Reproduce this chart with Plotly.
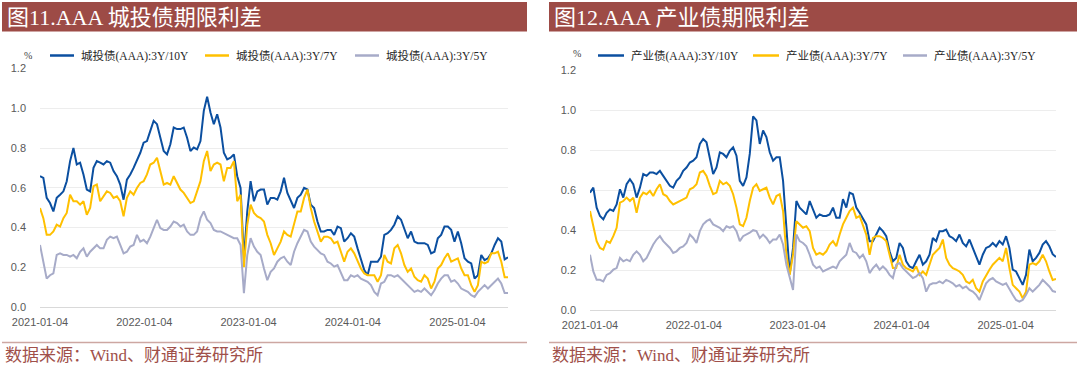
import plotly.graph_objects as go
import pandas as pd

# ---------------- data ----------------
START, END, N_POINTS = "2021-01-04", "2025-06-30", 141
tick_dates = ["2021-01-04", "2022-01-04", "2023-01-04", "2024-01-04", "2025-01-04"]
y_ticks = [0.0, 0.2, 0.4, 0.6, 0.8, 1.0, 1.2]

titles = ["图11.AAA 城投债期限利差", "图12.AAA 产业债期限利差"]
names_left = ["城投债(AAA):3Y/10Y", "城投债(AAA):3Y/7Y", "城投债(AAA):3Y/5Y"]
names_right = ["产业债(AAA):3Y/10Y", "产业债(AAA):3Y/7Y", "产业债(AAA):3Y/5Y"]
source_text = "数据来源：Wind、财通证券研究所"

ct_10y = [
    0.658, 0.650, 0.549, 0.523, 0.481, 0.549, 0.565, 0.582, 0.633, 0.734,
    0.800, 0.717, 0.726, 0.667, 0.591, 0.582, 0.700, 0.734, 0.726, 0.717,
    0.734, 0.726, 0.684, 0.658, 0.616, 0.540, 0.641, 0.667, 0.700, 0.734,
    0.776, 0.827, 0.835, 0.886, 0.937, 0.920, 0.852, 0.785, 0.768, 0.819,
    0.903, 0.895, 0.895, 0.903, 0.852, 0.785,
    0.802, 0.793, 0.835, 0.987, 1.058, 0.979, 0.920, 0.970, 0.903, 0.776,
    0.743, 0.751, 0.768, 0.658, 0.599, 0.240, 0.481, 0.633, 0.532, 0.582,
    0.591, 0.591, 0.515, 0.549, 0.549, 0.540, 0.582, 0.650, 0.574, 0.532,
    0.498, 0.549, 0.565, 0.599, 0.591, 0.515, 0.498, 0.430, 0.380, 0.380,
    0.388, 0.388, 0.363, 0.405, 0.397, 0.329,
    0.346, 0.371, 0.354, 0.295, 0.245, 0.186, 0.160, 0.228, 0.228, 0.228,
    0.253, 0.363, 0.371, 0.388, 0.414, 0.456, 0.439, 0.388, 0.346, 0.380,
    0.329, 0.321, 0.321, 0.321, 0.312, 0.270, 0.278, 0.346, 0.363, 0.405,
    0.405, 0.388, 0.329, 0.380, 0.321, 0.245, 0.228, 0.219, 0.143, 0.160,
    0.262, 0.236, 0.245, 0.270, 0.312, 0.346, 0.329, 0.240, 0.250,
]
ct_7y = [
    0.498, 0.447, 0.363, 0.363, 0.380, 0.414, 0.405, 0.447, 0.473, 0.565,
    0.532, 0.532, 0.515, 0.532, 0.464, 0.498, 0.608, 0.616, 0.532, 0.557,
    0.582, 0.574, 0.549, 0.557, 0.532, 0.456, 0.549, 0.582, 0.565, 0.599,
    0.624, 0.633, 0.667, 0.717, 0.726, 0.751, 0.684, 0.616, 0.624, 0.616,
    0.658, 0.624, 0.591, 0.574, 0.549, 0.523,
    0.532, 0.582, 0.633, 0.734, 0.785, 0.684, 0.717, 0.726, 0.717, 0.633,
    0.700, 0.700, 0.734, 0.532, 0.565, 0.200, 0.414, 0.515, 0.473, 0.456,
    0.447, 0.430, 0.363, 0.321, 0.262, 0.295, 0.329, 0.380, 0.363, 0.354,
    0.414, 0.481, 0.481, 0.549, 0.591, 0.498, 0.430, 0.380, 0.329, 0.354,
    0.354, 0.346, 0.321, 0.329, 0.278, 0.228,
    0.278, 0.295, 0.270, 0.236, 0.194, 0.169, 0.160, 0.160, 0.160, 0.127,
    0.160, 0.262, 0.228, 0.219, 0.295, 0.312, 0.270, 0.211, 0.177, 0.194,
    0.152, 0.135, 0.127, 0.160, 0.143, 0.093, 0.127, 0.194, 0.211, 0.245,
    0.270, 0.228, 0.236, 0.245, 0.194, 0.160, 0.160, 0.110, 0.076, 0.110,
    0.228, 0.219, 0.228, 0.270, 0.270, 0.278, 0.228, 0.150, 0.150,
]
ct_5y = [
    0.312, 0.228, 0.143, 0.160, 0.169, 0.262, 0.270, 0.262, 0.262, 0.253,
    0.262, 0.245, 0.278, 0.295, 0.253, 0.278, 0.295, 0.312, 0.295, 0.295,
    0.338, 0.354, 0.346, 0.354, 0.312, 0.270, 0.278, 0.304, 0.312, 0.363,
    0.329, 0.338, 0.321, 0.354, 0.397, 0.439, 0.397, 0.388, 0.388, 0.405,
    0.430, 0.422, 0.405, 0.414, 0.380, 0.363,
    0.363, 0.380, 0.447, 0.481, 0.439, 0.422, 0.388, 0.380, 0.380, 0.371,
    0.363, 0.354, 0.346, 0.346, 0.312, 0.070, 0.261, 0.346, 0.304, 0.278,
    0.262, 0.194, 0.135, 0.177, 0.194, 0.228, 0.245, 0.253, 0.228, 0.211,
    0.278, 0.321, 0.354, 0.388, 0.380, 0.329, 0.304, 0.287, 0.270, 0.262,
    0.228, 0.219, 0.203, 0.211, 0.169, 0.135,
    0.135, 0.160, 0.152, 0.160, 0.143, 0.135, 0.127, 0.110, 0.076, 0.059,
    0.118, 0.127, 0.160, 0.160, 0.152, 0.160, 0.143, 0.127, 0.110, 0.093,
    0.076, 0.084, 0.076, 0.093, 0.076, 0.059, 0.084, 0.118, 0.143, 0.160,
    0.160, 0.127, 0.135, 0.118, 0.093, 0.084, 0.076, 0.059, 0.051, 0.076,
    0.093, 0.110, 0.093, 0.110, 0.127, 0.143, 0.118, 0.070, 0.070,
]
cy_10y = [
    0.588, 0.613, 0.513, 0.471, 0.454, 0.487, 0.504, 0.496, 0.529, 0.605,
    0.563, 0.630, 0.655, 0.630, 0.563, 0.613, 0.681, 0.672, 0.689, 0.689,
    0.681, 0.697, 0.672, 0.647, 0.622, 0.613, 0.647, 0.664, 0.697, 0.714,
    0.739, 0.748, 0.765, 0.832, 0.857, 0.840, 0.765, 0.681, 0.714, 0.790,
    0.782, 0.765, 0.798, 0.815, 0.773, 0.647,
    0.622, 0.664, 0.782, 0.970, 0.950, 0.832, 0.899, 0.866, 0.790, 0.748,
    0.765, 0.765, 0.647, 0.412, 0.180, 0.311, 0.546, 0.513, 0.496, 0.479,
    0.546, 0.504, 0.462, 0.479, 0.471, 0.471, 0.479, 0.513, 0.462, 0.462,
    0.555, 0.513, 0.588, 0.580, 0.513, 0.487, 0.454, 0.429, 0.345, 0.345,
    0.378, 0.412, 0.395, 0.370, 0.294, 0.244,
    0.261, 0.336, 0.311, 0.244, 0.218, 0.210, 0.244, 0.277, 0.227, 0.244,
    0.277, 0.361, 0.345, 0.395, 0.395, 0.403, 0.370, 0.361, 0.345, 0.378,
    0.336, 0.319, 0.353, 0.311, 0.261, 0.227, 0.277, 0.311, 0.319, 0.336,
    0.319, 0.345, 0.328, 0.370, 0.311, 0.202, 0.193, 0.160, 0.126, 0.176,
    0.303, 0.244, 0.261, 0.286, 0.328, 0.345, 0.319, 0.280, 0.265,
]
cy_7y = [
    0.496, 0.412, 0.345, 0.311, 0.303, 0.345, 0.336, 0.370, 0.412, 0.538,
    0.546, 0.563, 0.546, 0.563, 0.487, 0.563, 0.588, 0.580, 0.597, 0.571,
    0.605, 0.630, 0.580, 0.571, 0.546, 0.529, 0.538, 0.546, 0.555, 0.563,
    0.605, 0.613, 0.630, 0.689, 0.697, 0.672, 0.622, 0.580, 0.588, 0.647,
    0.630, 0.639, 0.622, 0.580, 0.513, 0.429,
    0.420, 0.462, 0.546, 0.613, 0.630, 0.597, 0.605, 0.613, 0.563, 0.529,
    0.571, 0.580, 0.496, 0.277, 0.176, 0.277, 0.445, 0.429, 0.412, 0.420,
    0.395, 0.311, 0.277, 0.286, 0.277, 0.294, 0.328, 0.345, 0.319, 0.378,
    0.429, 0.462, 0.496, 0.513, 0.462, 0.471, 0.429, 0.378, 0.277, 0.361,
    0.370, 0.370, 0.361, 0.345, 0.277, 0.210,
    0.210, 0.277, 0.227, 0.210, 0.202, 0.193, 0.218, 0.176, 0.193, 0.176,
    0.227, 0.277, 0.294, 0.311, 0.353, 0.261, 0.227, 0.210, 0.202, 0.193,
    0.176, 0.143, 0.134, 0.151, 0.109, 0.092, 0.143, 0.176, 0.202, 0.227,
    0.244, 0.261, 0.244, 0.311, 0.210, 0.126, 0.109, 0.092, 0.059, 0.092,
    0.227, 0.235, 0.227, 0.244, 0.277, 0.244, 0.193, 0.150, 0.155,
]
cy_5y = [
    0.277, 0.193, 0.151, 0.151, 0.143, 0.176, 0.185, 0.202, 0.210, 0.261,
    0.244, 0.252, 0.244, 0.277, 0.294, 0.277, 0.244, 0.261, 0.294, 0.328,
    0.353, 0.370, 0.345, 0.328, 0.311, 0.286, 0.294, 0.311, 0.319, 0.336,
    0.378, 0.361, 0.336, 0.395, 0.429, 0.445, 0.454, 0.429, 0.420, 0.412,
    0.395, 0.420, 0.412, 0.420, 0.395, 0.345,
    0.370, 0.378, 0.387, 0.400, 0.395, 0.361, 0.378, 0.361, 0.336, 0.353,
    0.353, 0.378, 0.328, 0.227, 0.160, 0.100, 0.378, 0.345, 0.336, 0.319,
    0.277, 0.227, 0.210, 0.218, 0.193, 0.202, 0.210, 0.218, 0.210, 0.244,
    0.261, 0.277, 0.336, 0.294, 0.286, 0.261, 0.277, 0.244, 0.185, 0.210,
    0.227, 0.202, 0.218, 0.202, 0.176, 0.160,
    0.227, 0.235, 0.210, 0.193, 0.176, 0.160, 0.168, 0.185, 0.160, 0.092,
    0.126, 0.134, 0.134, 0.143, 0.134, 0.151, 0.143, 0.134, 0.118, 0.126,
    0.109, 0.118, 0.101, 0.092, 0.076, 0.050, 0.092, 0.134, 0.151, 0.160,
    0.143, 0.134, 0.126, 0.134, 0.101, 0.076, 0.050, 0.042, 0.050, 0.076,
    0.109, 0.092, 0.109, 0.126, 0.151, 0.134, 0.118, 0.095, 0.090,
]

for s in (ct_10y, ct_7y, ct_5y, cy_10y, cy_7y, cy_5y):
    assert len(s) == N_POINTS, len(s)

dates = pd.date_range(START, END, periods=N_POINTS)

# ---------------- style ----------------
W, H = 1080, 371
COLORS = ["#0B4FA0", "#FFC000", "#A7ABC8"]
BAR = "#9D4B46"
SERIF = "Liberation Serif, Noto Sans CJK SC, serif"
SANS = "Liberation Sans, Noto Sans CJK SC, sans-serif"
TICK_COLOR = "#595959"


def X(px):
    return px / W


def Y(py):
    return 1 - py / H


panels = [
    dict(series=[ct_10y, ct_7y, ct_5y], names=names_left, title=titles[0],
         x0=40, x1=508, ytop=68.5, ybot=307, bar=(2, 527), pct=(27.5, 55),
         leg=[(50, 74), (205, 229), (355, 379)], legy=55.5),
    dict(series=[cy_10y, cy_7y, cy_5y], names=names_right, title=titles[1],
         x0=590, x1=1056, ytop=70.5, ybot=310, bar=(549, 1077), pct=(577, 54),
         leg=[(598, 624), (753, 779), (903, 927)], legy=55.5),
]

fig = go.Figure()
shapes, annotations = [], []
layout = dict(
    template="none",
    width=W, height=H, autosize=False, margin=dict(l=0, r=0, t=0, b=0, pad=0),
    paper_bgcolor="white", plot_bgcolor="white", showlegend=False,
    hovermode=False,
)

for k, p in enumerate(panels):
    xa = "x" if k == 0 else "x2"
    ya = "y" if k == 0 else "y2"
    for vals, name, col in zip(p["series"], p["names"], COLORS):
        fig.add_trace(go.Scatter(x=dates, y=vals, name=name, mode="lines",
                                 line=dict(color=col, width=2),
                                 xaxis=xa, yaxis=ya))
    sfx = "" if k == 0 else "2"
    layout["xaxis" + sfx] = dict(
        domain=[X(p["x0"]), X(p["x1"])], anchor=ya, type="date", automargin=False,
        range=[dates[0], dates[-1]], tickvals=tick_dates, ticktext=tick_dates,
        showgrid=False, zeroline=False, showline=True, linecolor="#D9D9D9",
        linewidth=1, ticks="", ticklabelstandoff=5,
        tickfont=dict(family=SANS, size=11, color=TICK_COLOR),
    )
    layout["yaxis" + sfx] = dict(
        domain=[Y(p["ybot"]), Y(p["ytop"])], anchor=xa, range=[0, 1.2],
        automargin=False,
        tickvals=y_ticks, ticktext=[f"{v:.1f}" for v in y_ticks],
        showgrid=True, gridcolor="#EDEDED", gridwidth=1, zeroline=False,
        showline=False, ticks="", ticklabelstandoff=13,
        tickfont=dict(family=SANS, size=11, color=TICK_COLOR),
    )
    bx0, bx1 = p["bar"]
    shapes.append(dict(type="rect", xref="paper", yref="paper",
                       x0=X(bx0), x1=X(bx1), y0=Y(31.5), y1=Y(2),
                       fillcolor=BAR, line=dict(width=0), layer="below"))
    annotations.append(dict(text=p["title"], xref="paper", yref="paper",
                            x=X(bx0 + 3), y=Y(17.5), xanchor="left", yanchor="middle",
                            showarrow=False,
                            font=dict(family=SERIF, size=22, color="white")))
    shapes.append(dict(type="line", xref="paper", yref="paper",
                       x0=X(bx0), x1=X(bx1), y0=Y(342.5), y1=Y(342.5),
                       line=dict(color="#CDA7A2", width=1.5)))
    annotations.append(dict(text=source_text, xref="paper", yref="paper",
                            x=X(bx0 + 1), y=Y(355.5), xanchor="left", yanchor="middle",
                            showarrow=False,
                            font=dict(family=SERIF, size=17, color="#A0504A")))
    annotations.append(dict(text="%", xref="paper", yref="paper",
                            x=X(p["pct"][0]), y=Y(p["pct"][1]), xanchor="center",
                            yanchor="middle", showarrow=False,
                            font=dict(family=SERIF, size=10, color="#404040")))
    for (lx0, lx1), name, col in zip(p["leg"], p["names"], COLORS):
        shapes.append(dict(type="line", xref="paper", yref="paper",
                           x0=X(lx0), x1=X(lx1), y0=Y(p["legy"]), y1=Y(p["legy"]),
                           line=dict(color=col, width=2.5)))
        annotations.append(dict(text=name, xref="paper", yref="paper",
                                x=X(lx1 + 5), y=Y(p["legy"]), xanchor="left",
                                yanchor="middle", showarrow=False,
                                font=dict(family=SERIF, size=11.5, color="#262626")))

layout["shapes"] = shapes
layout["annotations"] = annotations
fig.update_layout(**layout)
# the viewer page would otherwise add the browser's default 8px body margin
fig.write_html(
    "out.html",
    config=dict(displayModeBar=False),
    post_script="document.body.style.margin='0px';"
                "document.documentElement.style.margin='0px';",
)
